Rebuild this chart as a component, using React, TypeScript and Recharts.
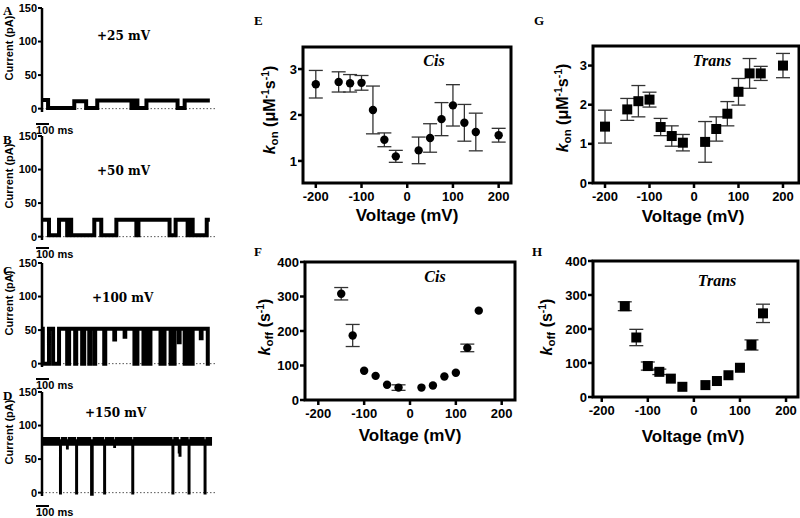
import React from 'react';
import {
  ScatterChart, Scatter, XAxis, YAxis, ErrorBar, ReferenceArea,
  ComposedChart, Line, Area, ReferenceLine,
} from 'recharts';

// ---------- Panels E-H data ----------
const konVoltages = [-200, -150, -125, -100, -75, -50, -25, 25, 50, 75, 100, 125, 150, 200];
const cisKon = [2.67, 2.72, 2.69, 2.7, 2.11, 1.46, 1.1, 1.23, 1.5, 1.91, 2.21, 1.83, 1.63, 1.56];
const cisKonErr = [0.3, 0.22, 0.19, 0.16, 0.52, 0.15, 0.13, 0.29, 0.31, 0.36, 0.45, 0.4, 0.41, 0.15];
const transKon = [1.44, 1.88, 2.09, 2.13, 1.43, 1.2, 1.03, 1.05, 1.38, 1.77, 2.33, 2.8, 2.8, 3.0];
const transKonErr = [0.42, 0.28, 0.4, 0.19, 0.22, 0.26, 0.21, 0.52, 0.31, 0.31, 0.34, 0.38, 0.18, 0.31];

const koffVoltages = [-150, -125, -100, -75, -50, -25, 25, 50, 75, 100, 125, 150];
const cisKoff = [308, 187, 85, 70, 44, 36, 36, 42, 68, 79, 151, 259];
const cisKoffErr = [18, 32, 0, 0, 0, 8, 0, 0, 0, 0, 11, 0];
const transKoff = [267, 175, 91, 74, 54, 30, 35, 47, 64, 86, 153, 246];
const transKoffErr = [13, 24, 12, 8, 0, 0, 0, 0, 0, 0, 15, 27];

const voltageTicks = [-200, -100, 0, 100, 200];
const konTicksCis = [1, 2, 3];
const konTicksTrans = [0, 1, 2, 3];
const koffTicks = [0, 100, 200, 300, 400];

// ---------- Panels A-D data: [time ms, current pA] transitions ----------
const traceA: [number, number][] = [
  [0, 13], [47, 1], [250, 11], [342, 1], [428, 12], [693, 1], [716, 12], [739, 1], [809, 12], [1050, 1], [1105, 12],
];
const traceB: [number, number][] = [
  [0, 25], [54, 2], [132, 25], [195, 2], [202, 25], [226, 2], [405, 25], [459, 2], [576, 25], [731, 2],
  [747, 25], [988, 2], [1035, 25], [1128, 2], [1136, 25], [1167, 2], [1276, 25],
];
const traceC: [number, number][] = [
  [0, 52], [6, 0], [54, 52], [86, 0], [132, 52], [195, 0], [210, 52], [257, 0], [265, 52], [311, 0], [327, 52],
  [366, 0], [373, 52], [405, 0], [412, 52], [482, 0], [490, 52], [560, 36], [566, 52], [640, 40], [645, 52],
  [716, 0], [739, 52], [786, 0], [793, 52], [817, 0], [840, 52], [918, 0], [949, 52], [996, 0], [1027, 52],
  [1060, 32], [1066, 52], [1105, 0], [1113, 52], [1144, 0], [1167, 52], [1230, 38], [1236, 52], [1284, 0],
];
const traceD: [number, number][] = [
  [0, 78], [140, -1], [146, 78], [194, 66], [199, 78], [265, -1], [271, 78], [381, -3], [392, 78], [482, -1],
  [488, 78], [560, 68], [565, 78], [700, -1], [706, 78], [1011, -1], [1017, 78], [1060, 60], [1066, 55],
  [1072, 78], [1136, -1], [1142, 78], [1260, -1], [1266, 78],
];
const traceEnds = [1300, 1300, 1300, 1317];
const traceLabels = ['+25 mV', '+50 mV', '+100 mV', '+150 mV'];
const currentTicks = [0, 50, 100, 150];

const FONT = "'Liberation Sans', Arial, sans-serif";
const SERIF = "'Liberation Serif', 'Times New Roman', serif";

function buildRows(tr: [number, number][], end: number, bandOpen?: number) {
  const rows: any[] = [];
  tr.forEach(([start, level], k) => {
    const stop = k + 1 < tr.length ? tr[k + 1][0] : end;
    const band = bandOpen !== undefined && level >= bandOpen - 2 ? [level - 8, level + 5] : null;
    rows.push({ t: start, i: level, band });
    rows.push({ t: stop, i: level, band });
  });
  return rows;
}

function zip(v: number[], y: number[], e: number[]) {
  return v.map((x, k) => ({ x, y: y[k], err: e[k] }));
}

const Dot = (p: any) => <circle cx={p.cx} cy={p.cy} r={4.2} fill="#000" />;
const Sq = (p: any) => <rect x={p.cx - 5} y={p.cy - 5} width={10} height={10} fill="#000" />;

const tickStyle = { fontSize: 13, fontWeight: 'bold', fill: '#000', fontFamily: FONT } as any;

function Txt(props: { x: number; cy: number; size: number; family: string; children: any; italic?: boolean; w?: number; center?: boolean }) {
  const h = props.size * 1.2;
  return (
    <div
      style={{
        position: 'absolute',
        left: props.center ? props.x - (props.w || 100) / 2 : props.x,
        width: props.center ? props.w || 100 : undefined,
        textAlign: props.center ? 'center' : 'left',
        top: props.cy - h / 2,
        height: h,
        lineHeight: `${h}px`,
        fontSize: props.size,
        fontFamily: props.family,
        fontWeight: 'bold',
        fontStyle: props.italic ? 'italic' : 'normal',
        whiteSpace: 'nowrap',
        color: '#000',
      }}
    >
      {props.children}
    </div>
  );
}

function VLabel(props: { cx: number; cy: number; size: number; children: any }) {
  const w = 200;
  const h = 24;
  return (
    <div
      style={{
        position: 'absolute',
        left: props.cx - w / 2,
        top: props.cy - h / 2,
        width: w,
        height: h,
        lineHeight: `${h}px`,
        textAlign: 'center',
        transform: 'rotate(-90deg)',
        fontFamily: FONT,
        fontWeight: 'bold',
        fontSize: props.size,
        whiteSpace: 'nowrap',
        color: '#000',
      }}
    >
      {props.children}
    </div>
  );
}

const sub = { fontSize: '0.72em', verticalAlign: '-0.3em', lineHeight: 0 } as any;
const sup = { fontSize: '0.65em', verticalAlign: '0.55em', lineHeight: 0 } as any;

const KonLabel = () => (
  <span>
    <i>k</i><span style={sub}>on</span> (μM<span style={sup}>-1</span>s<span style={sup}>-1</span>)
  </span>
);
const KoffLabel = () => (
  <span>
    <i>k</i><span style={sub}>off</span> (s<span style={sup}>-1</span>)
  </span>
);

function RatePanel(props: {
  left: number; top: number; width: number; height: number;
  margin: any; yWidth: number; xHeight: number;
  xDomain: [number, number]; yDomain: [number, number]; yTicks: number[];
  data: any[]; square?: boolean;
}) {
  const { xDomain, yDomain } = props;
  return (
    <div style={{ position: 'absolute', left: props.left, top: props.top }}>
      <ScatterChart width={props.width} height={props.height} margin={props.margin}>
        <XAxis
          type="number" dataKey="x" domain={xDomain} ticks={voltageTicks} allowDataOverflow
          axisLine={false} tickLine={{ stroke: '#000', strokeWidth: 2.5 }} tickSize={5} tickMargin={4}
          tick={tickStyle} height={props.xHeight} interval={0}
        />
        <YAxis
          type="number" dataKey="y" domain={yDomain} ticks={props.yTicks} allowDataOverflow
          axisLine={false} tickLine={{ stroke: '#000', strokeWidth: 2.5 }} tickSize={5} tickMargin={1}
          tick={tickStyle} width={props.yWidth} interval={0}
        />
        <ReferenceArea
          x1={xDomain[0]} x2={xDomain[1]} y1={yDomain[0]} y2={yDomain[1]}
          fill="none" stroke="#000" strokeWidth={3} ifOverflow="visible"
        />
        <Scatter data={props.data} isAnimationActive={false} shape={props.square ? Sq : Dot}>
          <ErrorBar dataKey="err" direction="y" width={7} stroke="#333" strokeWidth={1.3} />
        </Scatter>
      </ScatterChart>
    </div>
  );
}

function TracePanel(props: { top: number; tr: [number, number][]; end: number; band?: number }) {
  const rows = buildRows(props.tr, props.end, props.band);
  return (
    <div style={{ position: 'absolute', left: 0, top: props.top }}>
      <ComposedChart width={215} height={122} data={rows} margin={{ top: 8, right: 0, bottom: 10, left: 0 }}>
        <XAxis type="number" dataKey="t" domain={[0, 1340]} hide />
        <YAxis
          type="number" domain={[-5, 150]} ticks={currentTicks} width={42} interval={0}
          axisLine={{ stroke: '#000', strokeWidth: 2.5 }} tickLine={{ stroke: '#000', strokeWidth: 2 }}
          tickSize={4} tickMargin={1}
          tick={{ fontSize: 11, fontWeight: 'bold', fill: '#000', fontFamily: FONT } as any}
        />
        <ReferenceLine y={0} stroke="#555" strokeDasharray="1.5 2" strokeWidth={1} />
        {props.band !== undefined && (
          <Area dataKey="band" type="linear" fill="#000" fillOpacity={1} stroke="none" isAnimationActive={false} connectNulls={false} />
        )}
        <Line
          dataKey="i" type="linear" dot={false} stroke="#000"
          strokeWidth={props.band !== undefined ? 2.2 : 4} isAnimationActive={false}
        />
      </ComposedChart>
    </div>
  );
}

export default function App() {
  const traceTops = [0, 128, 255, 384];
  const zeroLines = [108.6, 236.6, 363.6, 492.6];
  const labelX = [97, 97, 92, 85];
  const labelCy = [36, 171, 298, 413];
  const letterCy = [11, 140, 271, 396];
  const scaleOffset = [18, 14, 18, 16];
  const traces = [traceA, traceB, traceC, traceD];
  return (
    <div style={{ position: 'absolute', left: 0, top: 0, width: 800, height: 518, background: '#fff', overflow: 'hidden' }}>
      {traces.map((tr, k) => (
        <React.Fragment key={k}>
          <TracePanel top={traceTops[k]} tr={tr} end={traceEnds[k]} band={k === 3 ? 78 : undefined} />
          <Txt x={3} cy={letterCy[k]} size={13} family={SERIF}>{'ABCD'[k]}</Txt>
          <Txt x={labelX[k]} cy={labelCy[k]} size={12} family="'DejaVu Serif', serif">{traceLabels[k]}</Txt>
          <VLabel cx={9} cy={traceTops[k] + 48} size={11}>Current (pA)</VLabel>
          <div
            style={{
              position: 'absolute', left: 36, top: zeroLines[k] + scaleOffset[k] - 4, width: 13, height: 0,
              borderTop: '2px solid #000',
            }}
          />
          <Txt x={36} cy={zeroLines[k] + scaleOffset[k] + 4} size={11} family={FONT}>100 ms</Txt>
        </React.Fragment>
      ))}

      {/* E: Cis kon */}
      <RatePanel
        left={250} top={0} width={280} height={240} margin={{ top: 47, right: 19, bottom: 0, left: 0 }}
        yWidth={53} xHeight={57} xDomain={[-228, 227]} yDomain={[0.52, 3.48]} yTicks={konTicksCis}
        data={zip(konVoltages, cisKon, cisKonErr)}
      />
      {/* G: Trans kon */}
      <RatePanel
        left={530} top={0} width={270} height={240} margin={{ top: 46, right: 1, bottom: 0, left: 0 }}
        yWidth={63} xHeight={57} xDomain={[-227, 236]} yDomain={[0, 3.5]} yTicks={konTicksTrans}
        data={zip(konVoltages, transKon, transKonErr)} square
      />
      {/* F: Cis koff */}
      <RatePanel
        left={250} top={250} width={280} height={220} margin={{ top: 12, right: 15, bottom: 0, left: 0 }}
        yWidth={55} xHeight={70} xDomain={[-229, 229]} yDomain={[0, 400]} yTicks={koffTicks}
        data={zip(koffVoltages, cisKoff, cisKoffErr)}
      />
      {/* H: Trans koff */}
      <RatePanel
        left={530} top={250} width={270} height={220} margin={{ top: 11, right: 2, bottom: 0, left: 0 }}
        yWidth={63} xHeight={73} xDomain={[-219, 226]} yDomain={[0, 400]} yTicks={koffTicks}
        data={zip(koffVoltages, transKoff, transKoffErr)} square
      />

      <Txt x={254} cy={21} size={13} family={SERIF}>E</Txt>
      <Txt x={254} cy={252} size={13} family={SERIF}>F</Txt>
      <Txt x={534} cy={21} size={13} family={SERIF}>G</Txt>
      <Txt x={532} cy={252} size={13} family={SERIF}>H</Txt>

      <Txt x={434} cy={61} size={16} family={SERIF} italic center w={60}>Cis</Txt>
      <Txt x={712} cy={61} size={16} family={SERIF} italic center w={80}>Trans</Txt>
      <Txt x={435} cy={277} size={16} family={SERIF} italic center w={60}>Cis</Txt>
      <Txt x={717} cy={281} size={16} family={SERIF} italic center w={80}>Trans</Txt>

      <Txt x={407} cy={216} size={17} family={FONT} center w={160}>Voltage (mV)</Txt>
      <Txt x={693} cy={217} size={17} family={FONT} center w={160}>Voltage (mV)</Txt>
      <Txt x={410} cy={436} size={17} family={FONT} center w={160}>Voltage (mV)</Txt>
      <Txt x={693} cy={437} size={17} family={FONT} center w={160}>Voltage (mV)</Txt>

      <VLabel cx={270} cy={110} size={16}><KonLabel /></VLabel>
      <VLabel cx={563} cy={108} size={16}><KonLabel /></VLabel>
      <VLabel cx={265} cy={327} size={16}><KoffLabel /></VLabel>
      <VLabel cx={547} cy={327} size={16}><KoffLabel /></VLabel>
    </div>
  );
}
